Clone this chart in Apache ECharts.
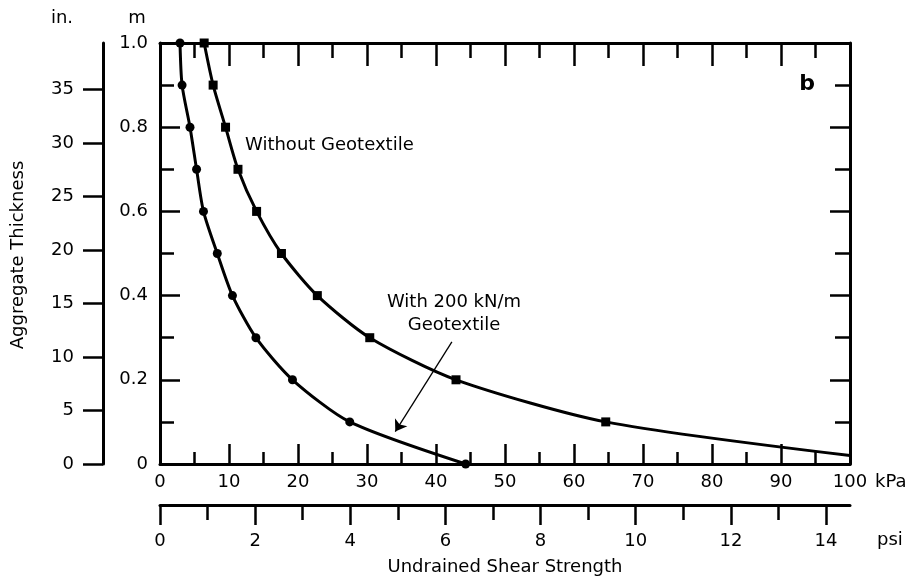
<!DOCTYPE html>
<html>
<head>
<meta charset="utf-8">
<title>Aggregate Thickness vs Undrained Shear Strength</title>
<script src="https://cdn.jsdelivr.net/npm/echarts@6/dist/echarts.min.js"></script>
<style>
html, body { margin: 0; padding: 0; background: #fff; }
#chart { width: 916px; height: 581px; }
</style>
</head>
<body>
<div id="chart"></div>
<script>
// thickness levels (m) where the points were plotted
var thickness = [1.0, 0.9, 0.8, 0.7, 0.6, 0.5, 0.4, 0.3, 0.2, 0.1, 0];
// undrained shear strength (kPa) at each level
var withGeotextile = [2.9, 3.2, 4.35, 5.3, 6.3, 8.3, 10.5, 13.9, 19.2, 27.5, 44.3];
var withoutGeotextile = [6.4, 7.7, 9.5, 11.3, 14.0, 17.6, 22.8, 30.4, 42.9, 64.6];
var withoutEnd = [100, 0.02];   // line runs on to the frame, no marker there

var inchTicks = [0, 5, 10, 15, 20, 25, 30, 35];
var psiMajor = [0, 2, 4, 6, 8, 10, 12, 14];
var psiMinor = [1, 3, 5, 7, 9, 11, 13];

// pointer from the "With 200 kN/m" note down to the curve
var arrowFrom = [42.3, 0.29];
var arrowTo = [34.1, 0.077];

var KPA_PER_PSI = 6.894757;
var M_PER_IN = 0.0254;

var FONT = 'DejaVu Sans';
var black = '#000';

function axisLine(show) {
	return { show: show !== false, onZero: false, lineStyle: { color: black, width: 3 } };
}
function labelStyle(extra) {
	var s = { color: black, fontSize: 18, fontFamily: FONT };
	for (var k in extra) s[k] = extra[k];
	return s;
}

var circles = [];
for (var i = 0; i < withGeotextile.length; i++) {
	circles.push([withGeotextile[i], thickness[i]]);
}
var squares = [];
for (var j = 0; j < withoutGeotextile.length; j++) {
	squares.push([withoutGeotextile[j], thickness[j]]);
}
squares.push({ value: withoutEnd, symbol: 'none' });

var chart = echarts.init(document.getElementById('chart'));
chart.setOption({
	animation: false,
	backgroundColor: '#fff',
	grid: { left: 160, right: 66, top: 43, bottom: 117, containLabel: false },
	xAxis: [{
		// kPa
		type: 'value', position: 'bottom', min: 0, max: 100, interval: 10,
		axisLine: axisLine(),
		axisTick: { inside: true, length: 20, lineStyle: { color: black, width: 2.5 } },
		minorTick: { show: true, splitNumber: 2, length: 12, lineStyle: { color: black, width: 2.5 } },
		axisLabel: labelStyle({ margin: 9 }),
		splitLine: { show: false }
	}, {
		// top frame
		type: 'value', position: 'top', min: 0, max: 100, interval: 10,
		axisLine: axisLine(),
		axisTick: { inside: true, length: 23, lineStyle: { color: black, width: 2.5 } },
		minorTick: { show: true, splitNumber: 2, length: 15, lineStyle: { color: black, width: 2.5 } },
		axisLabel: { show: false },
		splitLine: { show: false }
	}, {
		// psi, major ticks and labels
		type: 'value', position: 'bottom', offset: 41, min: 0, max: 100 / KPA_PER_PSI,
		axisLine: axisLine(),
		axisTick: { customValues: psiMajor, length: 20, lineStyle: { color: black, width: 2.5 } },
		axisLabel: labelStyle({ customValues: psiMajor, margin: 27 }),
		splitLine: { show: false }
	}, {
		// psi, minor ticks
		type: 'value', position: 'bottom', offset: 41, min: 0, max: 100 / KPA_PER_PSI,
		axisLine: axisLine(false),
		axisTick: { customValues: psiMinor, length: 15, lineStyle: { color: black, width: 2.5 } },
		axisLabel: { show: false },
		splitLine: { show: false }
	}],
	yAxis: [{
		// m
		type: 'value', position: 'left', min: 0, max: 1, interval: 0.2,
		axisLine: axisLine(),
		axisTick: { inside: true, length: 20, lineStyle: { color: black, width: 2.5 } },
		minorTick: { show: true, splitNumber: 2, length: 14, lineStyle: { color: black, width: 2.5 } },
		axisLabel: labelStyle({
			margin: 12,
			formatter: function (v) { return v === 0 ? '0' : v.toFixed(1); }
		}),
		splitLine: { show: false }
	}, {
		// right frame
		type: 'value', position: 'right', min: 0, max: 1, interval: 0.2,
		axisLine: axisLine(),
		axisTick: { inside: true, length: 20, lineStyle: { color: black, width: 2.5 } },
		minorTick: { show: true, splitNumber: 2, length: 15, lineStyle: { color: black, width: 2.5 } },
		axisLabel: { show: false },
		splitLine: { show: false }
	}, {
		// inches
		type: 'value', position: 'left', offset: 57, min: 0, max: 1 / M_PER_IN,
		axisLine: axisLine(),
		axisTick: { customValues: inchTicks, length: 20, lineStyle: { color: black, width: 2.5 } },
		axisLabel: labelStyle({ customValues: inchTicks, margin: 29 }),
		splitLine: { show: false }
	}],
	series: [{
		name: 'With 200 kN/m Geotextile',
		type: 'line',
		xAxisIndex: 0, yAxisIndex: 0,
		data: circles,
		smooth: 0.25,
		symbol: 'circle', symbolSize: 9,
		lineStyle: { color: black, width: 3 },
		itemStyle: { color: black },
		markLine: {
			silent: true,
			symbol: ['none', 'arrow'],
			symbolSize: 11,
			label: { show: false },
			lineStyle: { color: black, width: 1.3, type: 'solid' },
			data: [[{ coord: arrowFrom }, { coord: arrowTo }]]
		}
	}, {
		name: 'Without Geotextile',
		type: 'line',
		xAxisIndex: 0, yAxisIndex: 0,
		data: squares,
		smooth: 0.25,
		symbol: 'rect', symbolSize: 9,
		lineStyle: { color: black, width: 3 },
		itemStyle: { color: black }
	}],
	graphic: [
		{ type: 'text', style: { text: 'in.', x: 62, y: 18, align: 'center', verticalAlign: 'middle', font: '18px "' + FONT + '"', fill: black } },
		{ type: 'text', style: { text: 'm', x: 137, y: 18, align: 'center', verticalAlign: 'middle', font: '18px "' + FONT + '"', fill: black } },
		{ type: 'text', style: { text: 'b', x: 807, y: 84, align: 'center', verticalAlign: 'middle', font: 'bold 22px "' + FONT + '"', fill: black } },
		{ type: 'text', style: { text: 'Without Geotextile', x: 245, y: 145, align: 'left', verticalAlign: 'middle', font: '18px "' + FONT + '"', fill: black } },
		{ type: 'text', style: { text: 'With 200 kN/m\nGeotextile', x: 454, y: 314, align: 'center', verticalAlign: 'middle', lineHeight: 23, font: '18px "' + FONT + '"', fill: black } },
		{ type: 'text', style: { text: 'kPa', x: 875, y: 482, align: 'left', verticalAlign: 'middle', font: '18px "' + FONT + '"', fill: black } },
		{ type: 'text', style: { text: 'psi', x: 877, y: 540, align: 'left', verticalAlign: 'middle', font: '18px "' + FONT + '"', fill: black } },
		{ type: 'text', style: { text: 'Undrained Shear Strength', x: 505, y: 567, align: 'center', verticalAlign: 'middle', font: '18px "' + FONT + '"', fill: black } },
		{ type: 'text', rotation: Math.PI / 2, x: 18, y: 255, style: { text: 'Aggregate Thickness', x: 0, y: 0, align: 'center', verticalAlign: 'middle', font: '18px "' + FONT + '"', fill: black } }
	]
});
</script>
</body>
</html>
